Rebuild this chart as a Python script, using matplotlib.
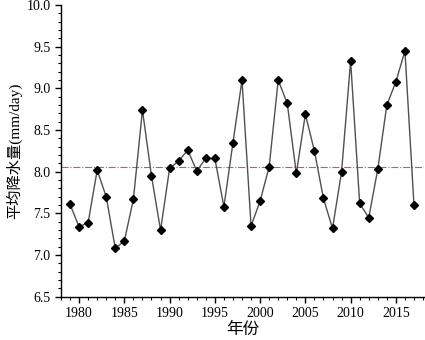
import matplotlib
matplotlib.use("Agg")
import matplotlib.pyplot as plt
from matplotlib.ticker import MultipleLocator, FormatStrFormatter

years = list(range(1979, 2018))
precip = [7.61, 7.34, 7.39, 8.02, 7.70, 7.08, 7.17, 7.67, 8.74, 7.95,
          7.30, 8.04, 8.13, 8.26, 8.01, 8.16, 8.16, 7.58, 8.35, 9.10,
          7.35, 7.65, 8.06, 9.10, 8.82, 7.98, 8.69, 8.25, 7.68, 7.32,
          8.00, 9.33, 7.62, 7.45, 8.03, 8.80, 9.08, 9.45, 7.60]
mean_val = 8.056

fam = ['Liberation Serif', 'Noto Sans CJK SC']
plt.rcParams['font.family'] = fam

fig = plt.figure(figsize=(4.25, 3.4), dpi=100)
ax = fig.add_axes([0.1435, 0.127, 0.854, 0.858])

ax.plot(years, precip, color='#505050', lw=1.0, marker='D', ms=4.5,
        mfc='black', mec='black', zorder=3)
ax.axhline(mean_val, color='#d9534f', lw=0.8, ls='-.', zorder=2)

ax.set_xlim(1978, 2018.1)
ax.set_ylim(6.5, 10.0)
ax.xaxis.set_major_locator(MultipleLocator(5))
ax.xaxis.set_minor_locator(MultipleLocator(1))
ax.yaxis.set_major_locator(MultipleLocator(0.5))
ax.yaxis.set_minor_locator(MultipleLocator(0.1))
ax.yaxis.set_major_formatter(FormatStrFormatter('%.1f'))

for s in ['top', 'right']:
    ax.spines[s].set_visible(False)
for s in ['left', 'bottom']:
    ax.spines[s].set_linewidth(1.0)

ax.tick_params(which='major', direction='out', length=4, width=1, labelsize=10)
ax.tick_params(which='minor', direction='out', length=2, width=0.8)

ax.set_xlabel('年份', fontsize=12, family=fam, labelpad=1)
ax.set_ylabel('平均降水量(mm/day)', fontsize=11, family=fam, labelpad=3)

fig.savefig('out.png', dpi=100)
